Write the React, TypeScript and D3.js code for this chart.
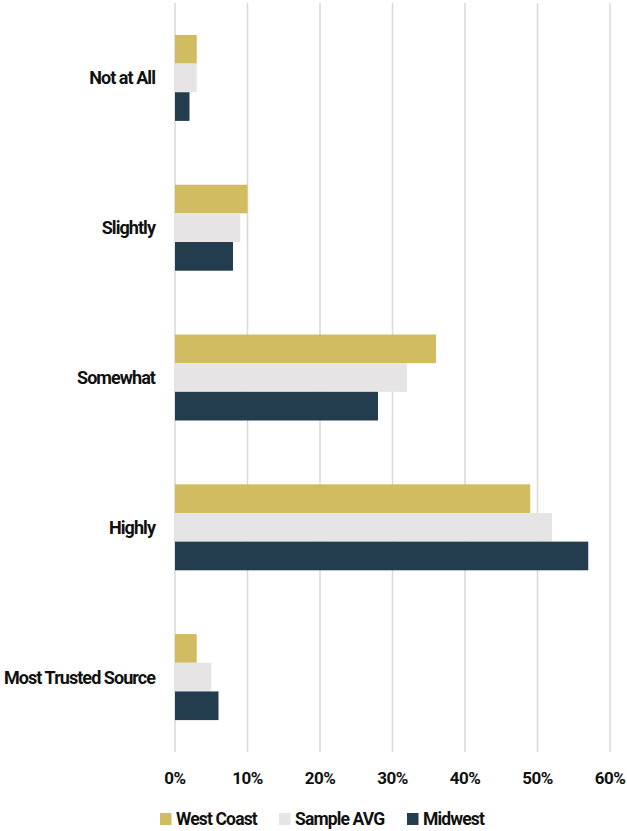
import React from "react";
import * as d3 from "d3";

const categories = ["Not at All", "Slightly", "Somewhat", "Highly", "Most Trusted Source"];
const seriesNames = ["West Coast", "Sample AVG", "Midwest"];
const westCoast = [3, 10, 36, 49, 3];
const sampleAvg = [3, 9, 32, 52, 5];
const midwest = [2, 8, 28, 57, 6];
const xTicks = [0, 10, 20, 30, 40, 50, 60];
const colors = ["#d1bc62", "#e6e4e5", "#233d4f"];

const W = 627;
const H = 831;
const FONT = "Roboto, 'Liberation Sans', sans-serif";

export default function App() {
  const series = [westCoast, sampleAvg, midwest];
  const x = d3.scaleLinear().domain([0, 60]).range([175, 610]);
  const y = d3
    .scaleBand<string>()
    .domain(categories)
    .range([3, 752])
    .paddingInner(0.426)
    .paddingOuter(0.213);
  const sub = d3
    .scaleBand<string>()
    .domain(seriesNames)
    .range([0, y.bandwidth()])
    .padding(0);

  const legendX = [160, 279, 407];

  return (
    <svg
      width={W}
      height={H}
      style={{ position: "absolute", left: 0, top: 0 }}
      fontFamily={FONT}
      fontWeight={700}
    >
      <rect x={0} y={0} width={W} height={H} fill="#ffffff" />
      {xTicks.map((t) => (
        <line
          key={"g" + t}
          x1={x(t)}
          x2={x(t)}
          y1={3}
          y2={752}
          stroke="#d9d9d9"
          strokeWidth={1.5}
        />
      ))}
      {categories.map((c, i) => (
        <g key={c}>
          {series.map((s, k) => (
            <rect
              key={k}
              x={x(0)}
              y={(y(c) as number) + (sub(seriesNames[k]) as number)}
              width={x(s[i]) - x(0)}
              height={sub.bandwidth()}
              fill={colors[k]}
            />
          ))}
          <text
            x={155}
            y={(y(c) as number) + y.bandwidth() / 2}
            dy="0.36em"
            textAnchor="end"
            fontSize={18}
            letterSpacing={-0.95}
            fill="#111"
          >
            {c}
          </text>
        </g>
      ))}
      {xTicks.map((t) => (
        <text
          key={"t" + t}
          x={x(t)}
          y={784}
          textAnchor="middle"
          fontSize={17}
          letterSpacing={-0.5}
          fill="#111"
        >
          {t + "%"}
        </text>
      ))}
      {seriesNames.map((n, k) => (
        <g key={n} transform={`translate(${legendX[k]},0)`}>
          <rect x={0} y={813} width={11.5} height={12} fill={colors[k]} />
          <text x={16} y={825} fontSize={17.5} letterSpacing={-0.85} fill="#111">
            {n}
          </text>
        </g>
      ))}
    </svg>
  );
}
